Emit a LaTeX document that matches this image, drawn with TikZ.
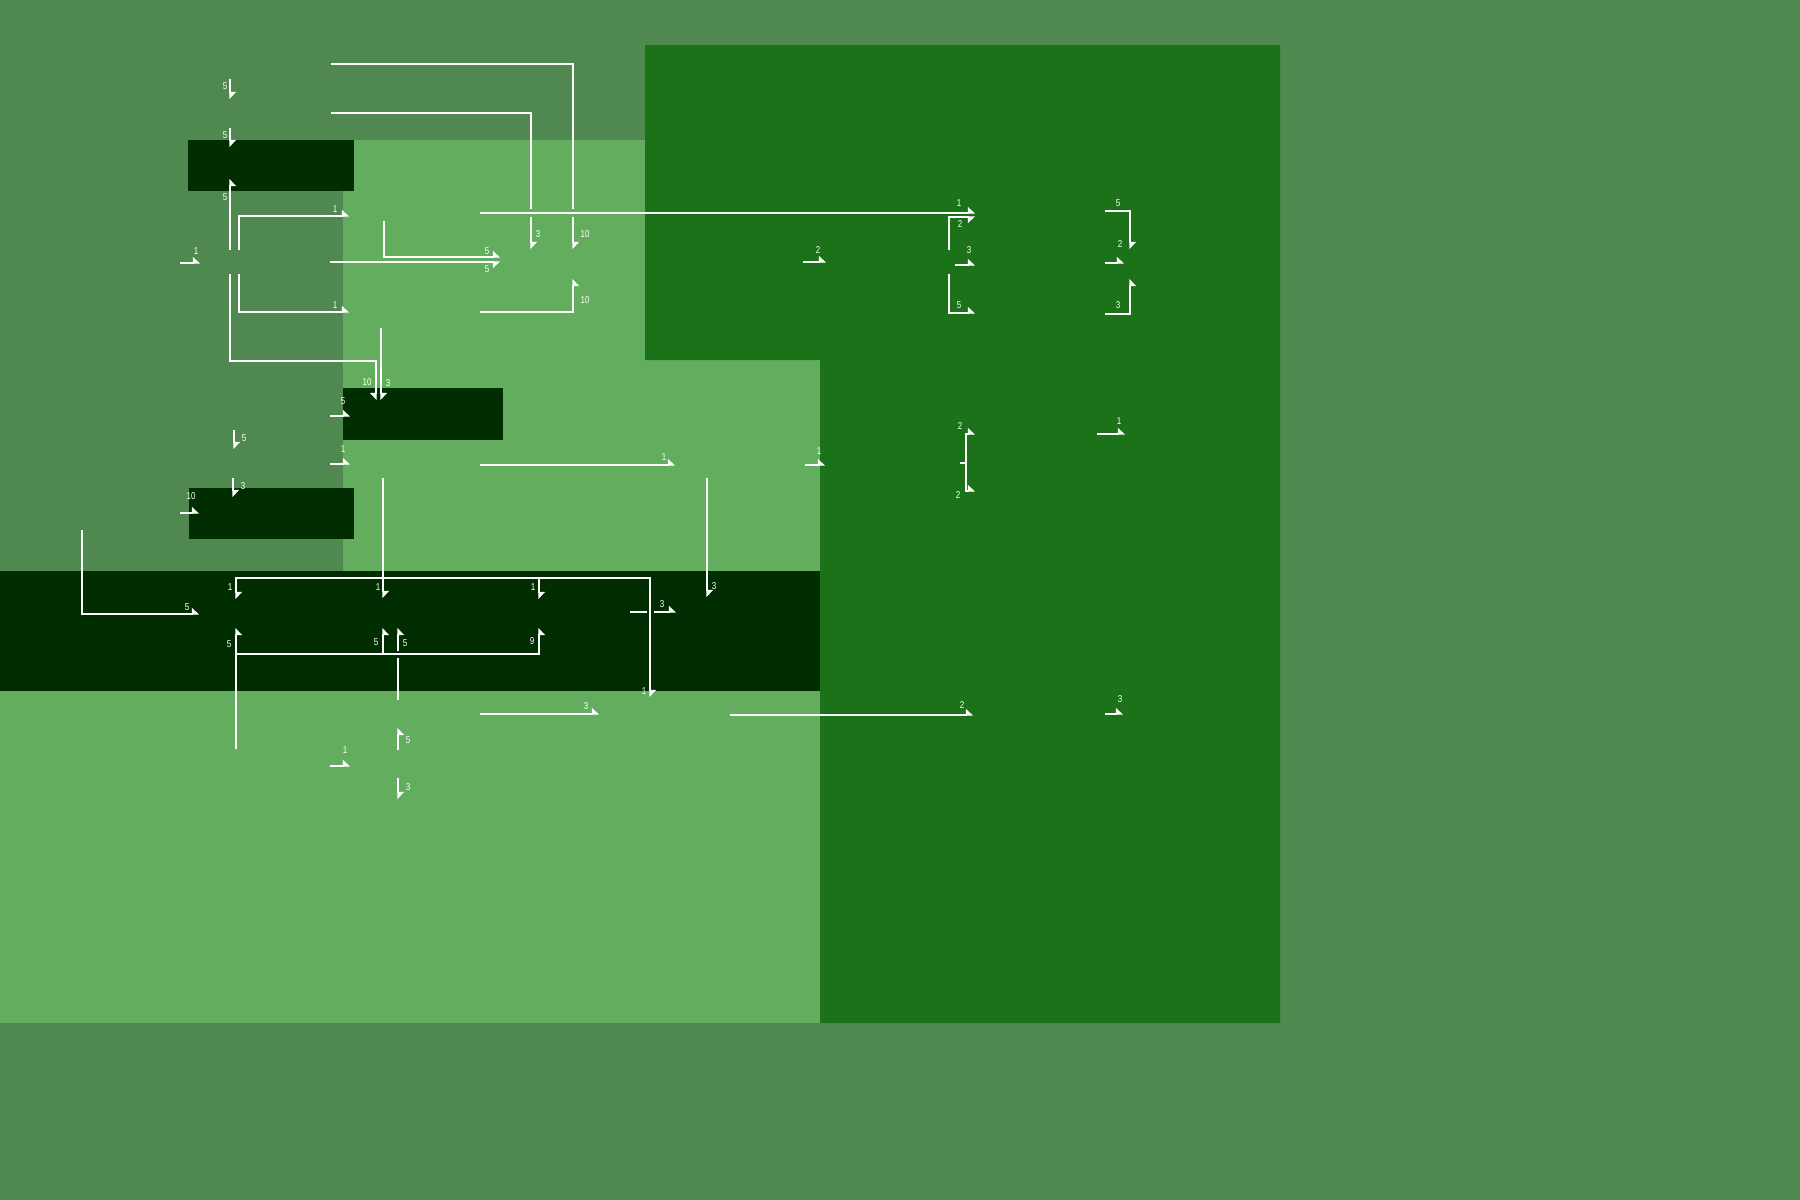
\documentclass[tikz,border=0pt]{standalone}
\usepackage{fontspec}
\newfontfamily\labfont[FakeStretch=0.8]{Liberation Sans}
\usetikzlibrary{arrows.meta}
\definecolor{bgg}{RGB}{79,137,79}
\definecolor{lightg}{RGB}{98,174,94}
\definecolor{midg}{RGB}{27,114,24}
\definecolor{deepg}{RGB}{0,46,0}
\begin{document}
\begin{tikzpicture}[x=1pt,y=-1pt,
  conn/.style={draw=white,line width=1.1pt},
  al/.style={conn,-{Triangle[harpoon,length=6.5pt,width=12pt]}},
  ar/.style={conn,-{Triangle[harpoon,swap,length=6.5pt,width=12pt]}},
  lab/.style={text=white,font=\labfont\fontsize{10}{10}\selectfont,inner sep=0pt},
  box/.style={fill=deepg,draw=none,inner sep=0pt,anchor=north west}]
\useasboundingbox (0,0) rectangle (1800,1200);
% regions
\fill[bgg] (0,0) rectangle (1800,1200);
\fill[lightg] (343,140) rectangle (820,1023);
\fill[lightg] (0,571) rectangle (820,1023);
\fill[midg] (645,45) -- (1280,45) -- (1280,1023) -- (820,1023) -- (820,360) -- (645,360) -- cycle;
\fill[deepg] (0,571) rectangle (820,691);
\node[box,minimum width=166pt,minimum height=51pt] (boxA) at (188,140) {};
\node[box,minimum width=160pt,minimum height=52pt] (boxB) at (343,388) {};
\node[box,minimum width=165pt,minimum height=51pt] (boxC) at (189,488) {};
% connector end points
\foreach \n/\x/\y in {
  a1s/230/79, a1t/230/99, a2s/230/128, a2t/230/147, a3s/230/250, a3t/230/179,
  a4s/180/263, a4t/200/263, a5s/239/250, a5t/349/216, a6s/239/274, a6t/349/312,
  a7s/230/274, a7m/376/361, a7t/376/400, a8s/331/64, a8t/573/249, a9s/331/113, a9t/531/249,
  a10s/384/221, a10t/500/257, a11s/330/262, a11t/500/262, a12s/480/213, a12t/975/213,
  a13s/480/312, a13t/573/279, a14s/381/328, a14t/381/400, a15s/803/262, a15t/826/262,
  a16s/949/250, a16t/975/217, a17s/955/265, a17t/975/265, a18s/949/274, a18t/975/313,
  a19s/1105/211, a19t/1130/249, a20s/1105/263, a20t/1124/263, a21s/1105/314, a21t/1130/279,
  a22s/330/416, a22t/350/416, a23s/330/464, a23t/350/464, a24s/234/430, a24t/234/449,
  a25s/233/478, a25t/233/497, a26s/180/513, a26t/199/513, a27s/480/465, a27t/675/465,
  a28s/805/465, a28t/825/465, a29s/707/478, a29t/707/597,
  a30s/960/463, a30j/966/463, a30u/975/434, a30d/975/491, a31s/1097/434, a31t/1125/434,
  a32s/82/530, a32t/199/614,
  a33s/383/478, a33j/383/578, a33a/236/599, a33b/383/598, a33c/539/599, a33d/650/697,
  a34s/236/749, a34j/236/654, a34a/236/628, a34b/383/628, a34c/539/628,
  a35s/398/700, a35t/398/628, a36s/398/750, a36t/398/728, a37s/398/778, a37t/398/799,
  a38s/330/766, a38t/350/766, a39s/630/612, a39t/676/612, a40s/480/714, a40t/599/714,
  a41s/730/715, a41t/973/715, a42s/1105/714, a42t/1123/714}
  \coordinate (\n) at (\x,\y);
% connectors
\draw[al] (a1s) -- (a1t);
\draw[al] (a2s) -- (a2t);
\draw[ar] (a3s) -- (a3t);
\draw[al] (a4s) -- (a4t);
\draw[al] (a5s) |- (a5t);
\draw[al] (a6s) |- (a6t);
\draw[ar] (a7s) |- (a7m) -- (a7t);
\draw[al] (a8s) -| (a8t);
\draw[al] (a9s) -| (a9t);
\fill[lightg] (527,209) rectangle (535,217);
\fill[lightg] (569,209) rectangle (577,217);
\draw[al] (a12s) -- (a12t);
\draw[al] (a10s) |- (a10t);
\draw[ar] (a11s) -- (a11t);
\draw[ar] (a13s) -| (a13t);
\draw[al] (a14s) -- (a14t);
\draw[al] (a15s) -- (a15t);
\draw[ar] (a16s) |- (a16t);
\draw[al] (a17s) -- (a17t);
\draw[al] (a18s) |- (a18t);
\draw[al] (a19s) -| (a19t);
\draw[al] (a20s) -- (a20t);
\draw[ar] (a21s) -| (a21t);
\draw[al] (a22s) -- (a22t);
\draw[al] (a23s) -- (a23t);
\draw[al] (a24s) -- (a24t);
\draw[al] (a25s) -- (a25t);
\draw[al] (a26s) -- (a26t);
\draw[al] (a27s) -- (a27t);
\draw[al] (a28s) -- (a28t);
\draw[al] (a29s) -- (a29t);
\draw[conn] (a30s) -- (a30j);
\draw[al] (a30j) |- (a30u);
\draw[al] (a30j) |- (a30d);
\draw[al] (a31s) -- (a31t);
\draw[al] (a32s) |- (a32t);
\draw[al] (a39s) -- (a39t);
\fill[deepg] (646.5,608) rectangle (653.5,616);
\draw[al] (a33s) -- (a33b);
\draw[al] (a33j) -| (a33a);
\draw[al] (a33j) -| (a33c);
\draw[al] (a33j) -| (a33d);
\draw[ar] (a35s) -- (a35t);
\fill[deepg] (394,650.5) rectangle (402,657.5);
\draw[ar] (a34s) -- (a34a);
\draw[ar] (a34j) -| (a34b);
\draw[ar] (a34j) -| (a34c);
\draw[ar] (a36s) -- (a36t);
\draw[al] (a37s) -- (a37t);
\draw[al] (a38s) -- (a38t);
\draw[al] (a40s) -- (a40t);
\draw[al] (a41s) -- (a41t);
\draw[al] (a42s) -- (a42t);
% labels
\foreach \n/\x/\y/\t in {
  1/225/86/5, 2/225/135/5, 3/225/197/5, 4/196/251/1, 5/335/209/1, 6/335/305/1,
  7/367/382/10, 8/585/234/10, 9/538/234/3, 10/487/251/5, 11/487/269/5, 12/959/203/1,
  13/585/300/10, 14/388/383/3, 15/818/250/2, 16/960/224/2, 17/969/250/3, 18/959/305/5,
  19/1118/203/5, 20/1120/244/2, 21/1118/305/3, 22/343/401/5, 23/343/449/1, 24/244/438/5,
  25/243/486/3, 26/191/496/10, 27/664/457/1, 28/819/451/1, 29/714/586/3,
  30a/960/426/2, 30b/958/495/2, 31/1119/421/1, 32/187/607/5,
  33a/230/587/1, 33b/378/587/1, 33c/533/587/1, 33d/644/691/1,
  34a/229/644/5, 34b/376/642/5, 34c/532/641/9,
  35/405/643/5, 36/408/740/5, 37/408/787/3, 38/345/750/1, 39/662/604/3,
  40/586/706/3, 41/962/705/2, 42/1120/699/3}
  \node[lab] (l\n) at (\x,\y) {\t};
\end{tikzpicture}
\end{document}
